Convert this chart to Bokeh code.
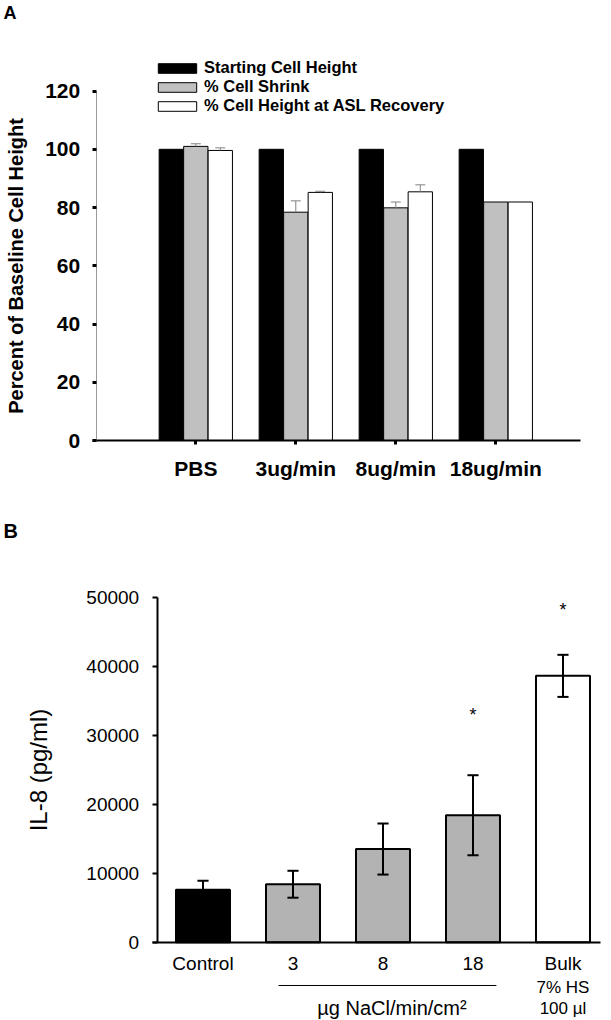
from bokeh.plotting import figure
from bokeh.models import FixedTicker, Legend, LegendItem, Label, Arrow, Range1d
from bokeh.layouts import column
from bokeh.embed import file_html
from bokeh.resources import INLINE
from bokeh.core.properties import value

FONT = "Liberation Sans"

# ---------------- Panel A data ----------------
a_groups = ["PBS", "3ug/min", "8ug/min", "18ug/min"]
a_series = ["Starting Cell Height", "% Cell Shrink", "% Cell Height at ASL Recovery"]
a_start = [100, 100, 100, 100]
a_shrink = [101.0, 78.4, 79.9, 81.9]
a_shrink_err = [0.9, 3.9, 2.0, 0.0]
a_recov = [99.6, 85.2, 85.4, 81.9]
a_recov_err = [0.9, 0.4, 2.4, 0.0]
a_yticks = [0, 20, 40, 60, 80, 100, 120]

# ---------------- Panel B data ----------------
b_groups = ["Control", "3", "8", "18", "Bulk"]
b_il8 = [7600, 8400, 13500, 18400, 38600]
b_err = [1300, 1950, 3700, 5800, 3050]
b_colors = ["black", "#b3b3b3", "#b3b3b3", "#b3b3b3", "white"]
b_sig_x = [3, 4]
b_sig_y = [32900, 48100]
b_yticks = [0, 10000, 20000, 30000, 40000, 50000]

# =============== Panel A ===============
pA = figure(width=611, height=490, x_range=Range1d(-1.953, 4.157), y_range=Range1d(-17.17, 151.1),
            output_backend="svg", toolbar_location=None,
            min_border_left=0, min_border_right=0, min_border_top=0, min_border_bottom=0)
pA.grid.visible = False
pA.outline_line_color = None

bw = 0.243
off = [-0.245, 0.0, 0.245]
xi = list(range(len(a_groups)))
series_vals = [a_start, a_shrink, a_recov]
series_cols = ["black", "#c0c0c0", "white"]
rends = []
for k in range(3):
    r = pA.vbar(x=[i + off[k] for i in xi], top=series_vals[k], width=bw, bottom=0,
                fill_color=series_cols[k], line_color="black", line_width=1)
    rends.append(r)

# error bars (upward only)
cap = 0.05
for k, (vals, errs) in enumerate([(a_shrink, a_shrink_err), (a_recov, a_recov_err)]):
    xs = [i + off[k + 1] for i in xi if errs[i] > 0]
    y0 = [vals[i] for i in xi if errs[i] > 0]
    y1 = [vals[i] + errs[i] for i in xi if errs[i] > 0]
    pA.segment(x0=xs, y0=y0, x1=xs, y1=y1, line_color="#808080", line_width=1)
    pA.segment(x0=[x - cap for x in xs], y0=y1, x1=[x + cap for x in xs], y1=y1,
               line_color="#808080", line_width=1)

legend = Legend(items=[LegendItem(label=a_series[k], renderers=[rends[k]]) for k in range(3)],
                location=(153, 375), glyph_width=48, glyph_height=12, label_height=19,
                spacing=0, padding=0, margin=0, border_line_alpha=0, background_fill_alpha=0,
                label_text_font=FONT, label_text_font_style="bold", label_text_font_size="16.5px",
                label_text_color="black", label_standoff=3)
pA.add_layout(legend)

pA.xaxis.fixed_location = 0
pA.xaxis.bounds = (-1.033, 3.847)
pA.xaxis.ticker = FixedTicker(ticks=xi)
pA.xaxis.major_label_overrides = {i: g for i, g in enumerate(a_groups)}
pA.xaxis.axis_line_width = 2
pA.xaxis.major_tick_out = 4
pA.xaxis.major_tick_in = 0
pA.xaxis.major_tick_line_width = 3
pA.xaxis.minor_tick_line_color = None
pA.xaxis.major_label_standoff = 12
pA.yaxis.fixed_location = -0.996
pA.yaxis.bounds = (0, 120)
pA.yaxis.ticker = FixedTicker(ticks=a_yticks)
pA.yaxis.axis_line_color = "#9a9a9a"
pA.yaxis.axis_line_width = 1
pA.yaxis.major_tick_out = 4
pA.yaxis.major_tick_in = 0
pA.yaxis.major_tick_line_width = 3
pA.yaxis.minor_tick_line_color = None
pA.yaxis.major_label_standoff = 12
pA.yaxis.axis_label = "Percent of Baseline Cell Height"
pA.yaxis.axis_label_standoff = 15
for ax in [pA.xaxis, pA.yaxis]:
    ax.major_label_text_font = FONT
    ax.major_label_text_font_style = "bold"
    ax.major_label_text_font_size = "21px"
    ax.major_label_text_color = "black"
    ax.axis_label_text_font = FONT
    ax.axis_label_text_font_style = "bold"
    ax.axis_label_text_font_size = "20px"
    ax.axis_label_text_color = "black"

pA.add_layout(Label(x=-1.923, y=150.2, text="A", text_font=FONT, text_font_style="bold",
                    text_font_size="18px", text_baseline="top", text_align="left",
                    text_color="black"))

# =============== Panel B ===============
pB = figure(width=611, height=530, x_range=Range1d(-2.25, 4.539), y_range=Range1d(-11348, 65464),
            output_backend="svg", toolbar_location=None,
            min_border_left=0, min_border_right=0, min_border_top=0, min_border_bottom=0)
pB.grid.visible = False
pB.outline_line_color = None

bxi = list(range(len(b_groups)))
pB.vbar(x=bxi, top=b_il8, width=0.6, bottom=0, fill_color=b_colors,
        line_color="black", line_width=2)
lo = [v - e for v, e in zip(b_il8, b_err)]
hi = [v + e for v, e in zip(b_il8, b_err)]
pB.segment(x0=bxi, y0=lo, x1=bxi, y1=hi, line_color="black", line_width=2)
bc = 0.062
pB.segment(x0=[x - bc for x in bxi], y0=hi, x1=[x + bc for x in bxi], y1=hi, line_color="black", line_width=2)
pB.segment(x0=[x - bc for x in bxi], y0=lo, x1=[x + bc for x in bxi], y1=lo, line_color="black", line_width=2)
pB.text(x=b_sig_x, y=b_sig_y, text=["*"] * len(b_sig_x), text_font=value(FONT),
        text_font_size="18px", text_align="center", text_baseline="middle", text_color="black")

pB.xaxis.fixed_location = 0
pB.xaxis.bounds = (-0.561, 4.417)
pB.xaxis.ticker = FixedTicker(ticks=bxi)
pB.xaxis.major_label_overrides = {i: g for i, g in enumerate(b_groups)}
pB.xaxis.axis_line_width = 2
pB.xaxis.major_tick_line_color = None
pB.xaxis.minor_tick_line_color = None
pB.xaxis.major_tick_out = 0
pB.xaxis.major_label_standoff = 11
pB.yaxis.fixed_location = -0.509
pB.yaxis.bounds = (0, 50000)
pB.yaxis.ticker = FixedTicker(ticks=b_yticks)
pB.yaxis.axis_line_width = 2
pB.yaxis.major_tick_out = 5
pB.yaxis.major_tick_in = 0
pB.yaxis.major_tick_line_width = 2
pB.yaxis.minor_tick_line_color = None
pB.yaxis.major_label_standoff = 13
pB.yaxis.axis_label = "IL-8 (pg/ml)"
pB.yaxis.axis_label_standoff = 32
for ax in [pB.xaxis, pB.yaxis]:
    ax.major_label_text_font = FONT
    ax.major_label_text_font_style = "normal"
    ax.major_label_text_font_size = "19px"
    ax.major_label_text_color = "black"
    ax.axis_label_text_font = FONT
    ax.axis_label_text_font_style = "normal"
    ax.axis_label_text_font_size = "24px"
    ax.axis_label_text_color = "black"

pB.add_layout(Label(x=-2.217, y=61261, text="B", text_font=FONT, text_font_style="bold",
                    text_font_size="20px", text_baseline="top", text_align="left",
                    text_color="black"))
pB.add_layout(Arrow(end=None, x_start=0.839, y_start=-6275, x_end=3.26, y_end=-6275,
                    line_color="black", line_width=1))
pB.add_layout(Label(x=2.1, y=-9464, text="\u00b5g NaCl/min/cm\u00b2", text_font=FONT,
                    text_font_size="20px", text_baseline="middle", text_align="center",
                    text_color="black"))
pB.add_layout(Label(x=4, y=-6565, text="7% HS", text_font=FONT,
                    text_font_size="17px", text_baseline="middle", text_align="center",
                    text_color="black"))
pB.add_layout(Label(x=4, y=-9609, text="100 \u00b5l", text_font=FONT,
                    text_font_size="17px", text_baseline="middle", text_align="center",
                    text_color="black"))

layout = column(pA, pB, spacing=0)
open("out.html", "w").write(file_html(layout, INLINE))
